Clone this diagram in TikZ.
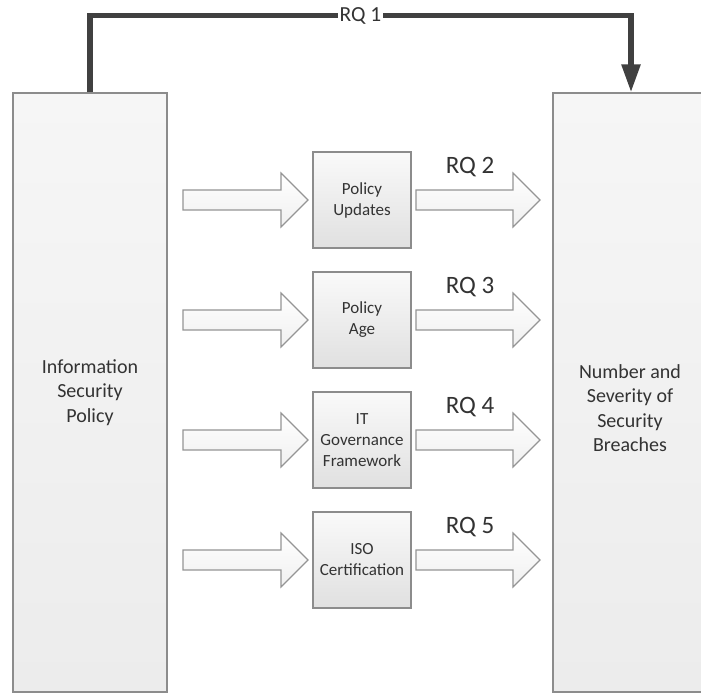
\documentclass[tikz,border=0pt]{standalone}
\usepackage{fontspec}
\setmainfont{Carlito}
\usetikzlibrary{arrows.meta,shadows}
\definecolor{boxtop}{HTML}{F6F6F6}
\definecolor{boxbot}{HTML}{ECECEC}
\definecolor{boxline}{HTML}{8C8C8C}
\definecolor{txt}{HTML}{333333}
\definecolor{rqline}{HTML}{404040}
\definecolor{arrline}{HTML}{959595}
\tikzset{
  bigbox/.style={draw=boxline, line width=1.3pt, top color=boxtop, bottom color=boxbot,
    minimum width=154pt, minimum height=599pt, inner sep=0pt, align=center, text=txt,
    drop shadow={shadow xshift=0.8pt, shadow yshift=-0.8pt, opacity=0.3}},
  midbox/.style={draw=boxline, line width=1.2pt, top color=boxtop!60!white, bottom color=boxbot!95!black,
    minimum width=98pt, minimum height=96pt, inner sep=0pt, align=center, text=txt,
    font=\fontsize{17}{21}\selectfont,
    drop shadow={shadow xshift=0.8pt, shadow yshift=-0.8pt, opacity=0.3}},
  bigtext/.style={align=center, text=txt, font=\fontsize{20}{24.5}\selectfont},
  rqlabel/.style={anchor=base, text=txt, font=\fontsize{25}{30}\selectfont, inner sep=0pt},
  blockarrow/.style={draw=arrline, line width=1.1pt, line join=miter, top color=white, bottom color=black!6},
  rqone/.style={draw=rqline, line width=5.5pt, line join=miter, -{Triangle[width=18pt,length=28pt]}},
}
\newcommand\blockarr[3]{%
  \path[blockarrow] (#1,#3-10) -- (#2-27,#3-10) -- (#2-27,#3-27) -- (#2,#3) -- (#2-27,#3+27)
    -- (#2-27,#3+10) -- (#1,#3+10) -- cycle;}
\begin{document}
\begin{tikzpicture}[x=1pt,y=-1pt]
\useasboundingbox (0,0) rectangle (701,694);
\clip (0,0) rectangle (701,694);
\fill[white] (0,0) rectangle (701,694);

% big boxes
\node[bigbox, font=\fontsize{20}{24.5}\selectfont] (lb) at (90,392.5) {Information\\Security\\Policy};
\node[bigbox] (rb) at (630,392.5) {};
\node[bigtext] (rbtext) at (630,408) {Number and\\Severity of\\Security\\Breaches};

% middle boxes
\node[midbox] (m1) at (362,200) {Policy\\Updates};
\node[midbox] (m2) at (362,320) {Policy\\Age};
\node[midbox] (m3) at (362,440) {IT\\Governance\\Framework};
\node[midbox] (m4) at (362,560) {ISO\\Certification};

% block arrows
\foreach \cy in {200,320,440,560}{
  \blockarr{183}{308}{\cy}
  \blockarr{416}{540}{\cy}
}

% RQ labels
\node[rqlabel] (rq2) at (470,173) {RQ 2};
\node[rqlabel] (rq3) at (470,293) {RQ 3};
\node[rqlabel] (rq4) at (470,413) {RQ 4};
\node[rqlabel] (rq5) at (470,533) {RQ 5};

% RQ 1 connector
\coordinate (ltop) at (90,15.5);
\coordinate (rtop) at (631,15.5);
\draw[rqone] (lb.north -| ltop) -- (ltop) -- node[fill=white, inner xsep=1.5pt, inner ysep=0pt, text=txt, font=\fontsize{21.5}{24}\selectfont] (rq1) {RQ 1} (rtop) -- (rb.north -| rtop);
\end{tikzpicture}
\end{document}
